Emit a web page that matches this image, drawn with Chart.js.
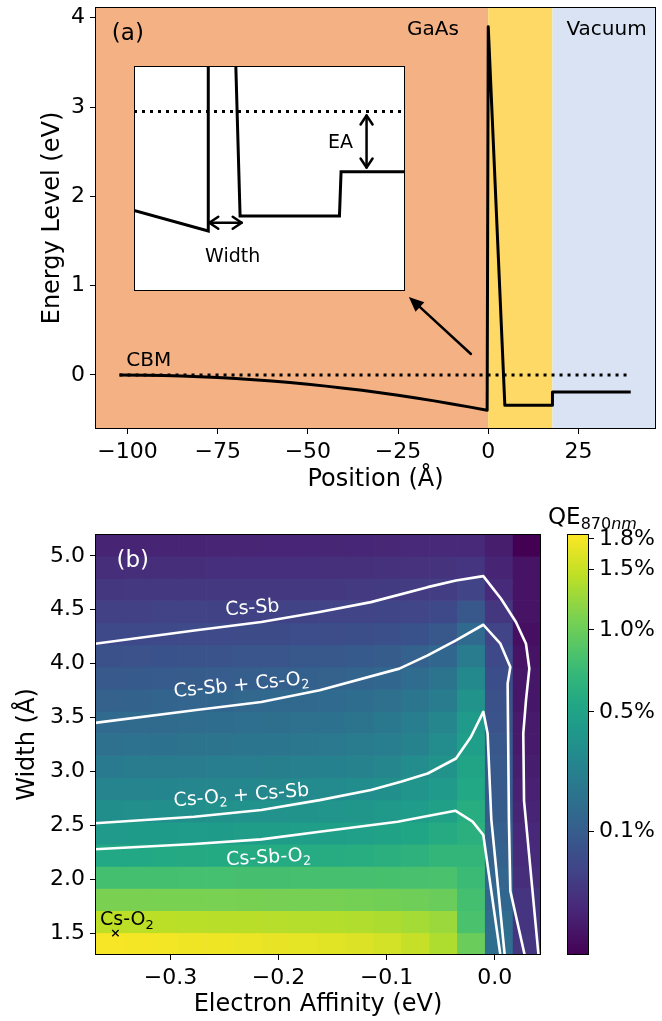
<!DOCTYPE html>
<html>
<head>
<title>GaAs band diagram and QE map</title>
<script src="https://cdn.jsdelivr.net/npm/chart.js@4"></script>
<style>
  body { margin: 0; background: #fff; }
  #wrap { position: relative; width: 662px; height: 1021px; }
  canvas { position: absolute; }
</style>
</head>
<body>
<div id="wrap">
  <canvas id="bandChart" width="662" height="500" style="left:0;top:0"></canvas>
  <canvas id="insetChart" width="271" height="225" style="left:134px;top:66px"></canvas>
  <canvas id="qeChart" width="662" height="521" style="left:0;top:500px"></canvas>
  <canvas id="cbChart" width="121" height="521" style="left:541px;top:500px"></canvas>
</div>
<script>
// ---- (a) band diagram ----
const positions = [-102.2, -95, -90, -85, -80, -75, -70, -65, -60, -55, -50, -45, -40, -35, -30, -25, -20, -15, -10, -5, -0.3, 0, 4.6, 17.8, 17.8, 39.5];
const energies = [0, -0.002, -0.006, -0.011, -0.019, -0.028, -0.039, -0.053, -0.068, -0.085, -0.104, -0.125, -0.148, -0.172, -0.199, -0.228, -0.258, -0.29, -0.324, -0.36, -0.395, 3.9, -0.34, -0.34, -0.19, -0.19];
const cbmLevel = 0;
const cbmSpan = [-102.2, 39.5];
const regionEdges = [-109, 0, 17.8, 46.5];
const regionColors = ['#f4b183', '#ffd966', '#dae3f3'];
const posTicks = [-100, -75, -50, -25, 0, 25];
const energyTicks = [0, 1, 2, 3, 4];

// inset sketch (schematic units)
const insetWellX = [0, 74, 74];
const insetWellY = [143.7, 164.3, -5];
const insetBarrierX = [101.3, 105.7, 204.7, 206.3, 272];
const insetBarrierY = [-5, 149.3, 149.3, 105.3, 105.3];
const insetVacuumY = 45.3;

// ---- (b) QE map ----
const eaValues = [-0.357, -0.3312, -0.3054, -0.2796, -0.2538, -0.228, -0.2022, -0.1764, -0.1506, -0.1248, -0.099, -0.0732, -0.0474, -0.0216, 0.0042, 0.03];
const widthValues = [5.1, 4.894, 4.689, 4.483, 4.278, 4.072, 3.867, 3.661, 3.456, 3.25, 3.044, 2.839, 2.633, 2.428, 2.222, 2.017, 1.811, 1.606, 1.4];
// QE (%) per width row (top to bottom) and EA column
const qeGrid = [
  [0.0077,0.0077,0.0078,0.0078,0.0080,0.0080,0.0081,0.0083,0.0086,0.0088,0.0092,0.0098,0.0107,0.0107,0.0045,0.0000],
  [0.0144,0.0144,0.0147,0.0147,0.0150,0.0150,0.0152,0.0155,0.0158,0.0161,0.0166,0.0175,0.0187,0.0202,0.0077,0.0015],
  [0.0236,0.0240,0.0240,0.0243,0.0243,0.0247,0.0250,0.0254,0.0258,0.0265,0.0272,0.0288,0.0312,0.040,0.0119,0.0015],
  [0.0355,0.0360,0.0364,0.0368,0.0373,0.0377,0.0382,0.0388,0.0395,0.0404,0.0425,0.0455,0.0503,0.082,0.0236,0.0015],
  [0.0503,0.0511,0.0520,0.0528,0.0537,0.0548,0.0559,0.0574,0.0589,0.0612,0.065,0.0714,0.082,0.142,0.040,0.0009],
  [0.068,0.0697,0.0714,0.0731,0.0746,0.0769,0.079,0.082,0.085,0.090,0.097,0.110,0.132,0.234,0.0503,0.0015],
  [0.089,0.0914,0.094,0.0962,0.0986,0.102,0.105,0.1095,0.114,0.121,0.132,0.153,0.185,0.306,0.0618,0.0023],
  [0.114,0.117,0.120,0.123,0.126,0.130,0.134,0.139,0.145,0.154,0.168,0.193,0.234,0.372,0.068,0.0023],
  [0.142,0.146,0.149,0.153,0.157,0.161,0.167,0.174,0.181,0.191,0.209,0.240,0.291,0.427,0.0749,0.0033],
  [0.174,0.178,0.181,0.185,0.189,0.194,0.199,0.206,0.213,0.224,0.240,0.272,0.322,0.465,0.082,0.0033],
  [0.221,0.225,0.229,0.233,0.237,0.242,0.248,0.255,0.262,0.274,0.291,0.322,0.372,0.506,0.089,0.0045],
  [0.276,0.280,0.284,0.288,0.292,0.298,0.303,0.310,0.317,0.329,0.346,0.377,0.427,0.548,0.089,0.006],
  [0.339,0.343,0.347,0.351,0.355,0.360,0.365,0.372,0.379,0.390,0.408,0.439,0.486,0.593,0.097,0.0077],
  [0.427,0.431,0.435,0.439,0.443,0.448,0.453,0.460,0.467,0.478,0.495,0.525,0.570,0.616,0.105,0.0097],
  [0.548,0.552,0.556,0.560,0.564,0.569,0.575,0.581,0.588,0.599,0.616,0.644,0.688,0.688,0.114,0.0119],
  [0.792,0.793,0.793,0.794,0.795,0.796,0.797,0.799,0.800,0.802,0.805,0.811,0.819,0.739,0.123,0.0144],
  [1.088,1.085,1.082,1.079,1.076,1.073,1.069,1.064,1.059,1.052,1.040,1.021,0.993,0.792,0.132,0.0202],
  [1.44,1.434,1.429,1.424,1.418,1.411,1.404,1.395,1.387,1.372,1.351,1.310,1.256,0.819,0.153,0.0202],
  [1.806,1.792,1.778,1.764,1.750,1.731,1.712,1.690,1.666,1.630,1.577,1.49,1.365,0.993,0.162,0.0236]
];
const eaTicks = [-0.3, -0.2, -0.1, 0.0];
const widthTicks = [1.5, 2.0, 2.5, 3.0, 3.5, 4.0, 4.5, 5.0];
const cbTickValues = [0.1, 0.5, 1.0, 1.5, 1.8];
const qeMax = 1.85;
const qeGamma = 0.42;

// phase boundaries
const csSbEA = [-0.3699, -0.278, -0.216, -0.162, -0.1145, -0.062, -0.0358, -0.0105, 0.0059, 0.0197, 0.029, 0.0321, 0.029, 0.0265, 0.0272, 0.0406];
const csSbW = [4.185, 4.308, 4.386, 4.479, 4.571, 4.71, 4.771, 4.812, 4.602, 4.386, 4.185, 3.954, 3.66, 3.352, 2.73, 1.297];
const csSbCsO2EA = [-0.3699, -0.278, -0.216, -0.162, -0.0882, -0.062, -0.0358, -0.0105, 0.0053, 0.0145, 0.012, 0.0132, 0.0145, 0.0278];
const csSbCsO2W = [3.451, 3.568, 3.645, 3.753, 3.954, 4.077, 4.216, 4.361, 4.185, 3.969, 3.815, 2.556, 1.892, 1.297];
const csO2CsSbEA = [-0.3699, -0.278, -0.216, -0.162, -0.1145, -0.0868, -0.062, -0.0358, -0.022, -0.0105, -0.0065, -0.0031, 0.0093];
const csO2CsSbW = [2.519, 2.58, 2.642, 2.734, 2.827, 2.905, 2.981, 3.12, 3.32, 3.553, 3.352, 2.556, 1.297];
const csSbO2EA = [-0.3699, -0.278, -0.216, -0.162, -0.0898, -0.062, -0.0364, -0.0204, -0.0105, 0.0053];
const csSbO2W = [2.278, 2.327, 2.37, 2.44, 2.534, 2.586, 2.636, 2.534, 2.41, 1.297];
const csO2Point = { x: -0.351, y: 1.5 };

// viridis colormap
const viridis = [
  [0.0, '#440154'], [0.1, '#482475'], [0.111, '#482878'], [0.2, '#414487'], [0.222, '#3e4989'],
  [0.3, '#355f8d'], [0.333, '#31688e'], [0.4, '#2a788e'], [0.444, '#26828e'], [0.5, '#21918c'],
  [0.556, '#1f9e89'], [0.6, '#22a884'], [0.667, '#35b779'], [0.7, '#44bf70'], [0.778, '#6ece58'],
  [0.8, '#7ad151'], [0.889, '#b5de2b'], [0.9, '#bddf26'], [1.0, '#fde725']
];
function hexRgb(h) { return [1, 3, 5].map(i => parseInt(h.substr(i, 2), 16)); }
function viridisColor(f) {
  f = Math.max(0, Math.min(1, f));
  for (let i = 1; i < viridis.length; i++) {
    if (f <= viridis[i][0]) {
      const [p0, c0] = viridis[i - 1], [p1, c1] = viridis[i];
      const t = (f - p0) / (p1 - p0);
      const a = hexRgb(c0), b = hexRgb(c1);
      return 'rgb(' + a.map((v, k) => Math.round(v + (b[k] - v) * t)).join(',') + ')';
    }
  }
  return viridis[viridis.length - 1][1];
}
function qeNorm(v) { return Math.pow(Math.max(0, v) / qeMax, qeGamma); }

const FONT = "'DejaVu Sans', sans-serif";
Chart.defaults.font.family = FONT;
Chart.defaults.color = '#000';
const minus = v => String(v).replace('-', '\u2212');

function drawRich(ctx, text, x, y, size, color, angle) {
  // "_{..}" marks a subscript
  const parts = [];
  text.split(/(_\{[^}]*\})/).forEach(s => {
    if (!s) return;
    if (s.startsWith('_{')) parts.push({ t: s.slice(2, -1), sub: true });
    else parts.push({ t: s, sub: false });
  });
  ctx.save();
  ctx.translate(x, y);
  ctx.rotate(-(angle || 0) * Math.PI / 180);
  ctx.fillStyle = color;
  ctx.textBaseline = 'alphabetic';
  ctx.textAlign = 'left';
  const fonts = parts.map(p => Math.round(p.sub ? size * 0.7 : size) + 'px ' + FONT);
  const widths = parts.map((p, i) => { ctx.font = fonts[i]; return ctx.measureText(p.t).width; });
  let cx = -widths.reduce((s, w) => s + w, 0) / 2;
  parts.forEach((p, i) => {
    ctx.font = fonts[i];
    ctx.fillText(p.t, cx, size * 0.36 + (p.sub ? size * 0.22 : 0));
    cx += widths[i];
  });
  ctx.restore();
}

function arrow(ctx, x0, y0, x1, y1, opt) {
  const ang = Math.atan2(y1 - y0, x1 - x0);
  const L = opt.head, W = opt.half;
  ctx.save();
  ctx.strokeStyle = '#000';
  ctx.fillStyle = '#000';
  ctx.lineWidth = opt.lw;
  ctx.lineCap = 'round';
  ctx.lineJoin = 'round';
  const tip = (tx, ty, a) => {
    const bx = tx - L * Math.cos(a), by = ty - L * Math.sin(a);
    const px = -Math.sin(a) * W, py = Math.cos(a) * W;
    ctx.beginPath();
    if (opt.filled) {
      ctx.moveTo(tx, ty); ctx.lineTo(bx + px, by + py); ctx.lineTo(bx - px, by - py); ctx.closePath(); ctx.fill();
    } else {
      ctx.moveTo(bx + px, by + py); ctx.lineTo(tx, ty); ctx.lineTo(bx - px, by - py); ctx.stroke();
    }
  };
  ctx.beginPath();
  ctx.moveTo(x0, y0);
  ctx.lineTo(opt.filled ? x1 - (L - 1) * Math.cos(ang) : x1, opt.filled ? y1 - (L - 1) * Math.sin(ang) : y1);
  ctx.stroke();
  tip(x1, y1, ang);
  if (opt.both) tip(x0, y0, ang + Math.PI);
  ctx.restore();
}

function spine(chart) {
  const { ctx, chartArea: a } = chart;
  ctx.save();
  ctx.strokeStyle = '#000';
  ctx.lineWidth = 1;
  ctx.strokeRect(Math.round(a.left) + 0.5, Math.round(a.top) + 0.5, Math.round(a.right - a.left) - 1, Math.round(a.bottom - a.top) - 1);
  ctx.restore();
}

function axisOpts(o) {
  return {
    type: 'linear', min: o.min, max: o.max, position: o.position, offset: false,
    afterFit: s => {
      if (o.width) s.width = o.width;
      if (o.height) s.height = o.height;
      s.paddingTop = 0; s.paddingBottom = 0; s.paddingLeft = 0; s.paddingRight = 0;
    },
    afterBuildTicks: s => { s.ticks = o.ticks.map(v => ({ value: v })); },
    ticks: { autoSkip: false, maxRotation: 0, padding: 5, font: { size: 22 }, color: '#000', callback: o.label },
    grid: { drawOnChartArea: false, drawTicks: true, offset: false, tickLength: 5, color: '#000', lineWidth: 1 },
    border: { display: false },
    title: { display: true, text: o.title, font: { size: 24 }, color: '#000', padding: o.titlePad }
  };
}

const common = {
  responsive: false, animation: false, events: [],
  plugins: { legend: { display: false }, tooltip: { enabled: false } }
};

// ---------- panel (a) ----------
const bandNotes = [
  { text: '(a)', x: -99.9, y: 3.84, size: 23 },
  { text: 'GaAs', x: -15.3, y: 3.89, size: 20 },
  { text: 'Vacuum', x: 32.8, y: 3.89, size: 20 },
  { text: 'CBM', x: -94.1, y: 0.18, size: 20 }
];
const pointerArrow = { from: [-4.8, 0.235], to: [-22, 0.874] };

const bandDecor = {
  id: 'bandDecor',
  beforeDatasetsDraw(chart) {
    const { ctx, chartArea: a, scales: { x } } = chart;
    ctx.save();
    regionColors.forEach((c, i) => {
      const x0 = x.getPixelForValue(regionEdges[i]), x1 = x.getPixelForValue(regionEdges[i + 1]);
      ctx.fillStyle = c;
      ctx.fillRect(x0, a.top, x1 - x0, a.bottom - a.top);
    });
    ctx.restore();
  },
  afterDatasetsDraw(chart) {
    const { ctx, scales: { x, y } } = chart;
    bandNotes.forEach(n => drawRich(ctx, n.text, x.getPixelForValue(n.x), y.getPixelForValue(n.y), n.size, '#000', 0));
    arrow(ctx, x.getPixelForValue(pointerArrow.from[0]), y.getPixelForValue(pointerArrow.from[1]),
      x.getPixelForValue(pointerArrow.to[0]), y.getPixelForValue(pointerArrow.to[1]), { head: 15, half: 6.5, lw: 2.5, filled: true });
  },
  afterDraw: spine
};

new Chart(document.getElementById('bandChart'), {
  type: 'line',
  data: {
    datasets: [
      { data: cbmSpan.map(p => ({ x: p, y: cbmLevel })), borderColor: '#000', borderWidth: 3, borderDash: [3, 5], pointRadius: 0 },
      { data: positions.map((p, i) => ({ x: p, y: energies[i] })), borderColor: '#000', borderWidth: 3, pointRadius: 0, borderJoinStyle: 'round', tension: 0 }
    ]
  },
  options: Object.assign({}, common, {
    layout: { padding: { top: 7, right: 6, left: 0, bottom: 0 }, autoPadding: false },
    scales: {
      x: axisOpts({ min: -109, max: 46.5, position: 'bottom', height: 71, ticks: posTicks, label: v => minus(v), title: 'Position (Å)', titlePad: { top: 0, bottom: 6 } }),
      y: axisOpts({ min: -0.605, max: 4.12, position: 'left', width: 95, ticks: energyTicks, label: v => minus(v), title: 'Energy Level (eV)', titlePad: { top: 38, bottom: 0 } })
    }
  }),
  plugins: [bandDecor]
});

// inset sketch
const insetNotes = [
  { text: 'Width', x: 98.3, y: 188.3 },
  { text: 'EA', x: 205.7, y: 75 }
];
const insetArrows = [
  { from: [75, 156], to: [107.3, 156] },
  { from: [231.7, 49.3], to: [231.7, 101] }
];
const insetDecor = {
  id: 'insetDecor',
  beforeDraw(chart) {
    const { ctx, width, height } = chart;
    ctx.save(); ctx.fillStyle = '#fff'; ctx.fillRect(0, 0, width, height); ctx.restore();
  },
  afterDatasetsDraw(chart) {
    const { ctx, scales: { x, y } } = chart;
    insetNotes.forEach(n => drawRich(ctx, n.text, x.getPixelForValue(n.x), y.getPixelForValue(n.y), 19, '#000', 0));
    insetArrows.forEach(a => arrow(ctx, x.getPixelForValue(a.from[0]), y.getPixelForValue(a.from[1]),
      x.getPixelForValue(a.to[0]), y.getPixelForValue(a.to[1]), { head: 9, half: 6, lw: 2.5, filled: false, both: true }));
  },
  afterDraw: spine
};
new Chart(document.getElementById('insetChart'), {
  type: 'line',
  data: {
    datasets: [
      { data: [{ x: 0, y: insetVacuumY }, { x: 272, y: insetVacuumY }], borderColor: '#000', borderWidth: 3, borderDash: [3, 5], pointRadius: 0 },
      { data: insetWellX.map((v, i) => ({ x: v, y: insetWellY[i] })), borderColor: '#000', borderWidth: 3, pointRadius: 0 },
      { data: insetBarrierX.map((v, i) => ({ x: v, y: insetBarrierY[i] })), borderColor: '#000', borderWidth: 3, pointRadius: 0 }
    ]
  },
  options: Object.assign({}, common, {
    layout: { padding: 0, autoPadding: false },
    scales: {
      x: { type: 'linear', display: false, min: 0, max: 270 },
      y: { type: 'linear', display: false, min: 0, max: 224, reverse: true }
    }
  }),
  plugins: [insetDecor]
});

// ---------- panel (b) ----------
const rowHalf = Math.abs(widthValues[0] - widthValues[1]) / 2;
const colHalf = Math.abs(eaValues[1] - eaValues[0]) / 2;
const heatSets = widthValues.map((w, r) => ({
  type: 'bar', xAxisID: 'xc', yAxisID: 'y', order: 3,
  data: eaValues.map(() => [w - rowHalf, w + rowHalf]),
  backgroundColor: qeGrid[r].map(v => viridisColor(qeNorm(v))),
  borderWidth: 0, barPercentage: 1, categoryPercentage: 1, grouped: false
}));
const phaseLine = (ea, w) => ({
  type: 'line', xAxisID: 'x', yAxisID: 'y', order: 1,
  data: ea.map((e, i) => ({ x: e, y: w[i] })),
  borderColor: '#fff', borderWidth: 2.6, pointRadius: 0, tension: 0, borderJoinStyle: 'round'
});
const phaseNotes = [
  { text: 'Cs-Sb', x: -0.2244, y: 4.531, angle: 4.2, color: '#fff', size: 19 },
  { text: 'Cs-Sb + Cs-O_{2}', x: -0.2346, y: 3.815, angle: 5.5, color: '#fff', size: 19 },
  { text: 'Cs-O_{2} + Cs-Sb', x: -0.2346, y: 2.79, angle: 4.5, color: '#fff', size: 19 },
  { text: 'Cs-Sb-O_{2}', x: -0.2093, y: 2.216, angle: 3.3, color: '#fff', size: 19 },
  { text: 'Cs-O_{2}', x: -0.3404, y: 1.639, angle: 0, color: '#000', size: 19 },
  { text: '(b)', x: -0.3349, y: 4.972, angle: 0, color: '#fff', size: 23 }
];
const qeDecor = {
  id: 'qeDecor',
  afterDatasetsDraw(chart) {
    const { ctx, scales: { x, y } } = chart;
    phaseNotes.forEach(n => drawRich(ctx, n.text, x.getPixelForValue(n.x), y.getPixelForValue(n.y), n.size, n.color, n.angle));
  },
  afterDraw: spine
};
new Chart(document.getElementById('qeChart'), {
  type: 'bar',
  data: {
    labels: eaValues,
    datasets: [
      phaseLine(csSbEA, csSbW),
      phaseLine(csSbCsO2EA, csSbCsO2W),
      phaseLine(csO2CsSbEA, csO2CsSbW),
      phaseLine(csSbO2EA, csSbO2W),
      { type: 'line', xAxisID: 'x', yAxisID: 'y', order: 0, data: [csO2Point], showLine: false,
        pointStyle: 'crossRot', pointRadius: 4.5, borderColor: '#000', borderWidth: 1.3 }
    ].concat(heatSets)
  },
  options: Object.assign({}, common, {
    layout: { padding: { top: 34, right: 121, left: 0, bottom: 0 }, autoPadding: false },
    scales: {
      xc: { type: 'category', display: false, offset: true, grid: { display: false } },
      x: axisOpts({ min: eaValues[0] - colHalf, max: eaValues[eaValues.length - 1] + colHalf, position: 'bottom', height: 66, ticks: eaTicks, label: v => minus(v.toFixed(1)), title: 'Electron Affinity (eV)', titlePad: { top: 0, bottom: 2 } }),
      y: axisOpts({ min: widthValues[widthValues.length - 1] - rowHalf, max: widthValues[0] + rowHalf, position: 'left', width: 95, ticks: widthTicks, label: v => v.toFixed(1), title: 'Width (Å)', titlePad: { top: 13, bottom: 0 } })
    }
  }),
  plugins: [qeDecor]
});

// colorbar
const cbDecor = {
  id: 'cbDecor',
  afterDraw(chart) {
    spine(chart);
    const ctx = chart.ctx;
    ctx.save();
    ctx.fillStyle = '#000';
    ctx.textBaseline = 'alphabetic';
    ctx.font = '23px ' + FONT;
    ctx.fillText('QE', 7, 24);
    let xx = 7 + ctx.measureText('QE').width;
    ctx.font = '16px ' + FONT;
    ctx.fillText('870', xx, 29);
    xx += ctx.measureText('870').width;
    ctx.font = 'italic 16px ' + FONT;
    ctx.fillText('nm', xx, 29);
    ctx.restore();
  }
};
new Chart(document.getElementById('cbChart'), {
  type: 'bar',
  data: {
    labels: ['QE'],
    datasets: [{
      data: [[0, 1]],
      backgroundColor: c => {
        const a = c.chart.chartArea;
        if (!a) return '#21918c';
        const g = c.chart.ctx.createLinearGradient(0, a.bottom, 0, a.top);
        viridis.forEach(([p, col]) => g.addColorStop(p, col));
        return g;
      },
      borderWidth: 0, barPercentage: 1, categoryPercentage: 1
    }]
  },
  options: Object.assign({}, common, {
    layout: { padding: { top: 34, right: 0, left: 26, bottom: 66 }, autoPadding: false },
    scales: {
      x: { display: false },
      y: Object.assign(axisOpts({ min: 0, max: 1, position: 'right', width: 73, ticks: [], title: '', titlePad: 0 }), {
        afterBuildTicks: s => { s.ticks = cbTickValues.map(v => ({ value: qeNorm(v) })); },
        ticks: { autoSkip: false, maxRotation: 0, padding: 5, font: { size: 22 }, color: '#000', callback: (v, i) => cbTickValues[i].toFixed(1) + '%' },
        title: { display: false }
      })
    }
  }),
  plugins: [cbDecor]
});
</script>
</body>
</html>
